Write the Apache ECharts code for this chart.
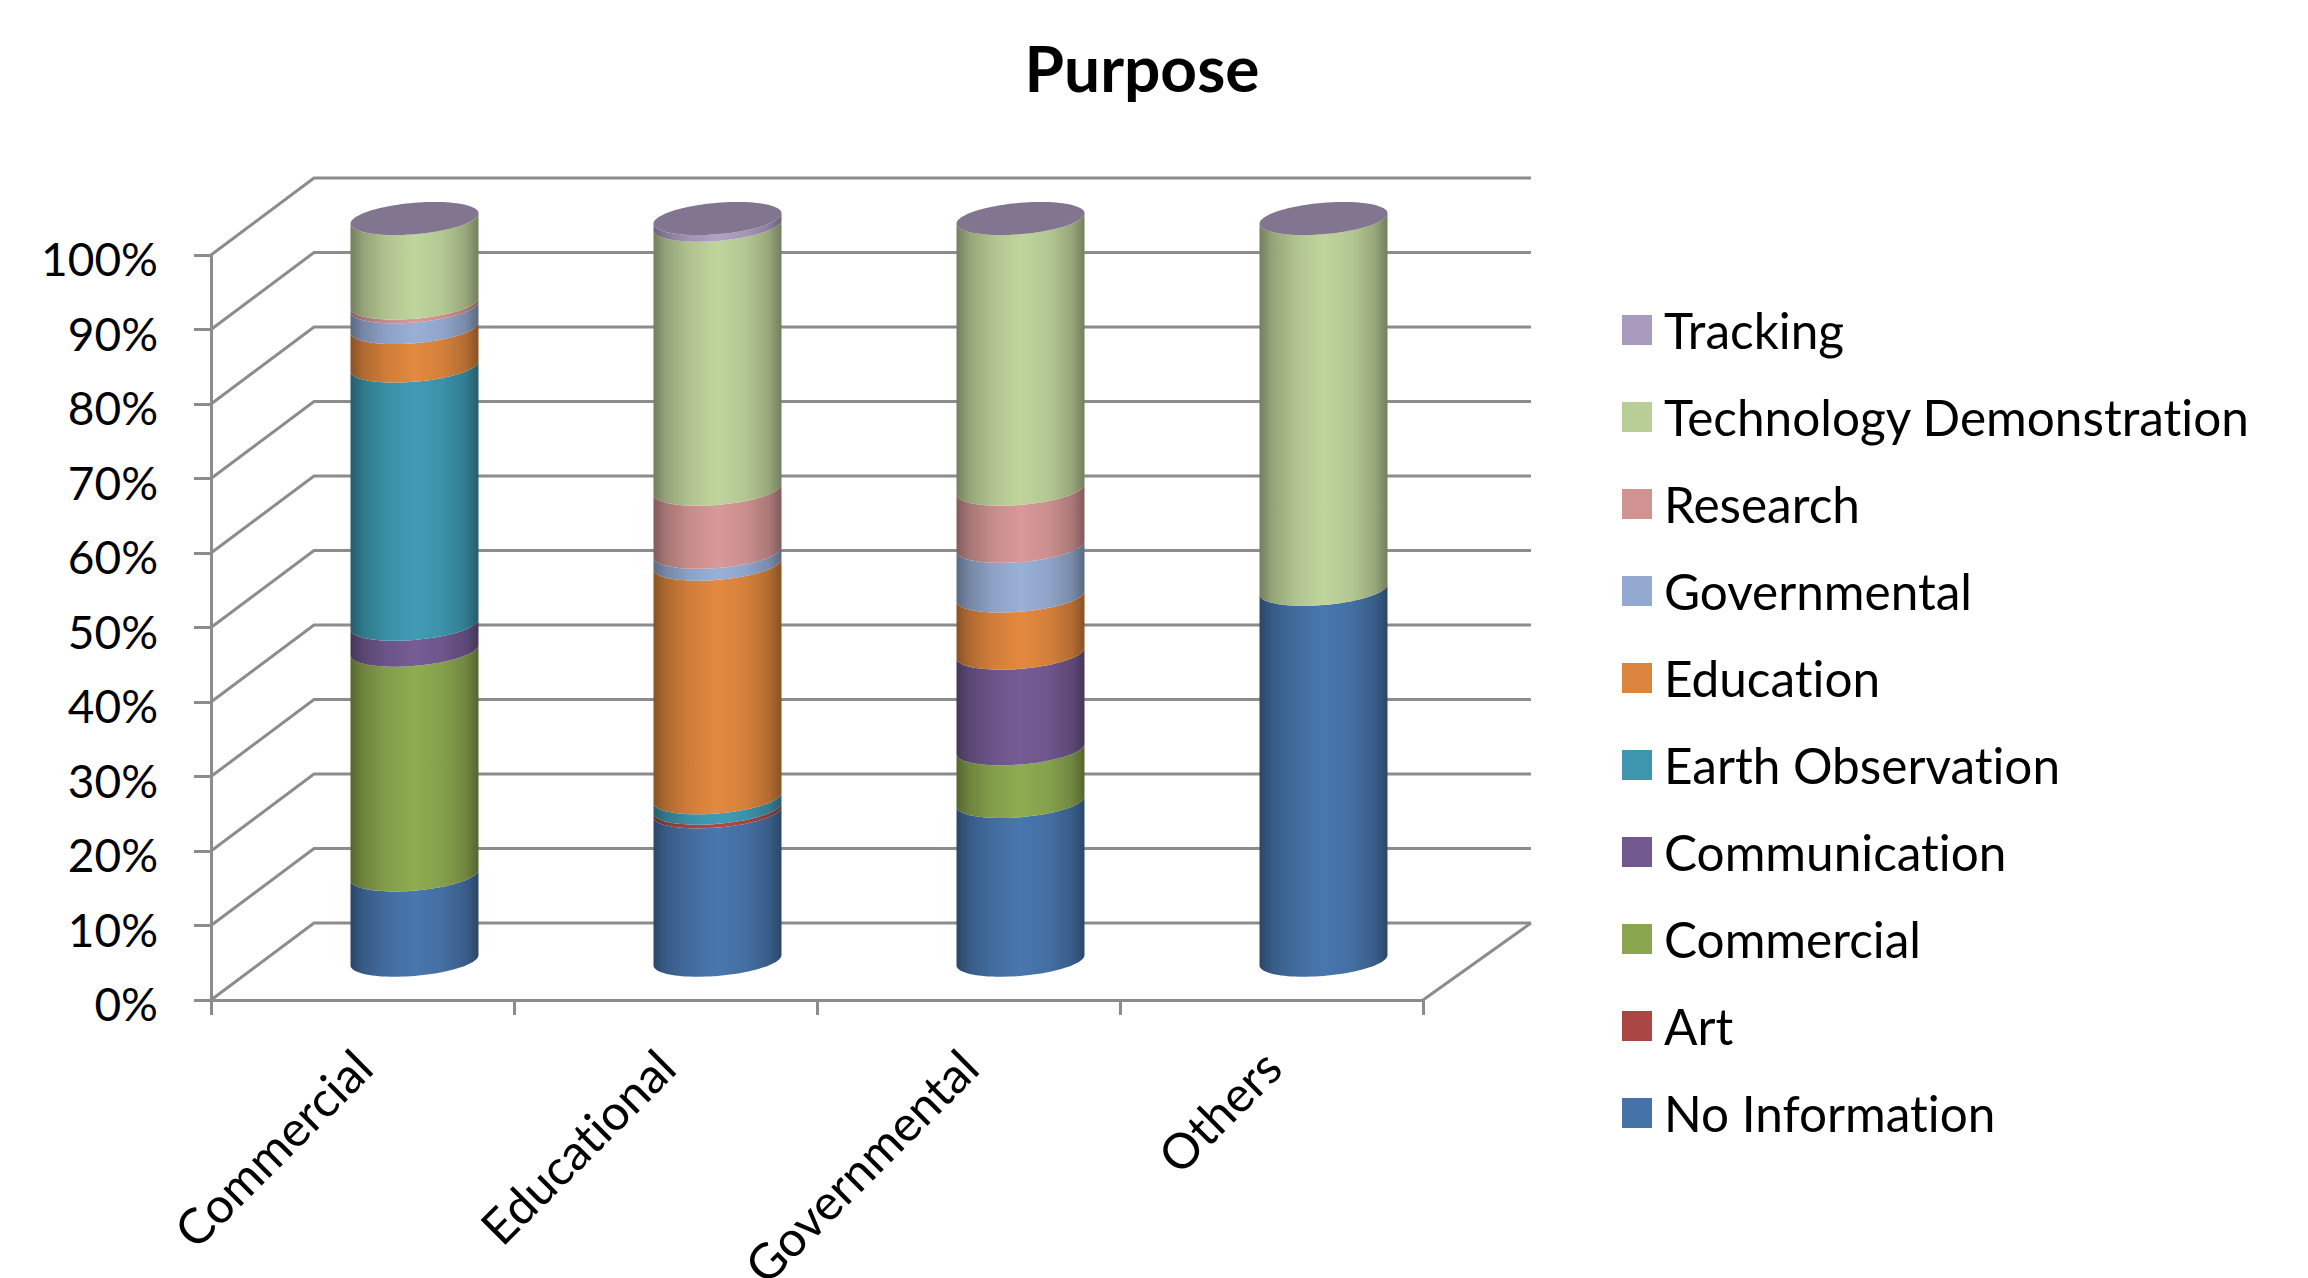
<!DOCTYPE html>
<html><head><meta charset="utf-8">
<style>html,body{margin:0;padding:0;background:#fff}#c{width:2308px;height:1278px}
text{font-variant-ligatures:none}</style>
<script src="https://cdn.jsdelivr.net/npm/echarts@6/dist/echarts.min.js"></script>
</head><body><div id="c"></div>
<script>
const categories = ['Commercial','Educational','Governmental','Others'];
const noInformation = [11.5,20.0,21.4,50.0];
const art = [0,0.5,0,0];
const commercial = [30.3,0,7.1,0];
const communication = [3.5,0,12.9,0];
const earthObservation = [34.8,1.4,0,0];
const education = [5.2,31.5,7.7,0];
const governmental = [2.8,1.6,6.7,0];
const research = [0.5,8.5,7.7,0];
const technologyDemonstration = [11.4,35.6,36.5,50.0];
const tracking = [0,0.9,0,0];
const seriesNames = ['No Information','Art','Commercial','Communication','Earth Observation','Education','Governmental','Research','Technology Demonstration','Tracking'];
const seriesValues = [noInformation,art,commercial,communication,earthObservation,education,governmental,research,technologyDemonstration,tracking];
const seriesColors = ['#4572A7','#AA4643','#89A54E','#71588F','#3D96AE','#DB843D','#93A9CF','#D09392','#B9CD96','#A99BBD'];
const capColor = '#81758F';
const yTicks = [0,10,20,30,40,50,60,70,80,90,100];

const DX = 103, DY = -77, FONT = 'Lato', GRID = '#8c8c8c';
function shade(hex,f){const n=parseInt(hex.slice(1),16);const c=[n>>16,(n>>8)&255,n&255].map(v=>Math.min(255,Math.round(v*f)));return `rgb(${c[0]},${c[1]},${c[2]})`;}
function gradient(col){return {type:'linear',x:0,y:0,x2:1,y2:0,colorStops:[
  {offset:0,color:shade(col,0.62)},{offset:0.1,color:shade(col,0.8)},{offset:0.28,color:shade(col,0.95)},
  {offset:0.5,color:shade(col,1.04)},{offset:0.72,color:shade(col,0.97)},{offset:0.9,color:shade(col,0.82)},{offset:1,color:shade(col,0.62)}]};}
function arc(cx,cy,a,b,s,from,to,n){const p=[];for(let i=0;i<=n;i++){const t=from+(to-from)*i/n;p.push([cx+a*Math.cos(t),cy+b*Math.sin(t)-s*Math.cos(t)]);}return p;}
function cylinderRenderer(col,withCap){return function(params,api){
  const i=api.value(0),lo=api.value(1),hi=api.value(2);
  const band=api.size([1,0])[0];const a=band*0.2112,b=15.7,s=5.2;
  const pLo=api.coord([i,lo]),pHi=api.coord([i,hi]);
  const cx=pLo[0]+DX/2+0.5;
  const lift=v=>-1.3+3.3*v/100;
  const yLo=pLo[1]+DY/2+lift(lo),yHi=pHi[1]+DY/2+lift(hi);
  const children=[];
  if(hi>lo){children.push({type:'polygon',shape:{points:arc(cx,yLo,a,b,s,Math.PI,0,48).concat(arc(cx,yHi,a,b,s,0,Math.PI,48))},style:{fill:gradient(col)},silent:true});}
  if(withCap){children.push({type:'polygon',shape:{points:arc(cx,yHi,a,b,s,0,2*Math.PI,96)},style:{fill:capColor},silent:true});}
  return {type:'group',children};
};}
function wallRenderer(params,api){
  const v=api.value(1);const cs=params.coordSys;
  const y=api.coord([0,v])[1];const l=cs.x,r=cs.x+cs.width;
  const st={stroke:GRID,lineWidth:3,fill:null};
  const children=[{type:'polyline',shape:{points:[[l,y],[l+DX,y+DY],[r+DX+5,y+DY]]},style:st,silent:true}];
  if(v===0)children.push({type:'line',shape:{x1:r,y1:y,x2:r+DX+5,y2:y+DY},style:st,silent:true});
  return {type:'group',children};
}
const cum=categories.map(()=>0);
const series=[{type:'custom',name:'walls',silent:true,z:1,renderItem:wallRenderer,encode:{x:0,y:1},data:yTicks.map(v=>[0,v]),clip:false,legendHoverLink:false}];
seriesNames.forEach((name,k)=>{
  const data=categories.map((c,i)=>{const lo=cum[i];cum[i]+=seriesValues[k][i];return [i,lo,cum[i]];});
  series.push({type:'custom',name,z:2+k,clip:false,silent:true,itemStyle:{color:seriesColors[k]},renderItem:cylinderRenderer(seriesColors[k],k===seriesNames.length-1),encode:{x:0,y:[1,2]},data});
});
const chart=echarts.init(document.getElementById('c'),null,{renderer:'svg'});
chart.setOption({
  animation:false,backgroundColor:'#fff',
  title:{text:'Purpose',left:1137,top:30,textAlign:'center',textStyle:{fontFamily:FONT,fontWeight:'bold',fontSize:64,color:'#000'}},
  grid:{left:211,top:255,width:1212,height:745,containLabel:false,outerBoundsMode:'none'},
  xAxis:{type:'category',data:categories,axisLine:{lineStyle:{color:GRID,width:3}},axisTick:{show:true,length:15,lineStyle:{color:GRID,width:3},alignWithLabel:false},
    axisLabel:{rotate:45,interval:0,fontFamily:FONT,fontSize:49,color:'#000',margin:58},splitLine:{show:false}},
  yAxis:{type:'value',min:0,max:100,interval:10,axisLine:{show:true,lineStyle:{color:GRID,width:3}},axisTick:{show:true,length:17,lineStyle:{color:GRID,width:3}},
    axisLabel:{formatter:'{a|{value}%}',fontFamily:FONT,fontSize:46,color:'#000',margin:53,
      rich:{a:{fontFamily:FONT,fontSize:46,color:'#000',padding:[7,0,0,0]}}},splitLine:{show:false}},
  legend:{orient:'vertical',left:1617,top:300,itemWidth:30,itemHeight:30,itemGap:37,icon:'rect',selectedMode:false,
    data:seriesNames.slice().reverse(),textStyle:{fontFamily:FONT,fontSize:49.5,color:'#000',padding:[0,0,0,7]}},
  series
});
</script></body></html>
